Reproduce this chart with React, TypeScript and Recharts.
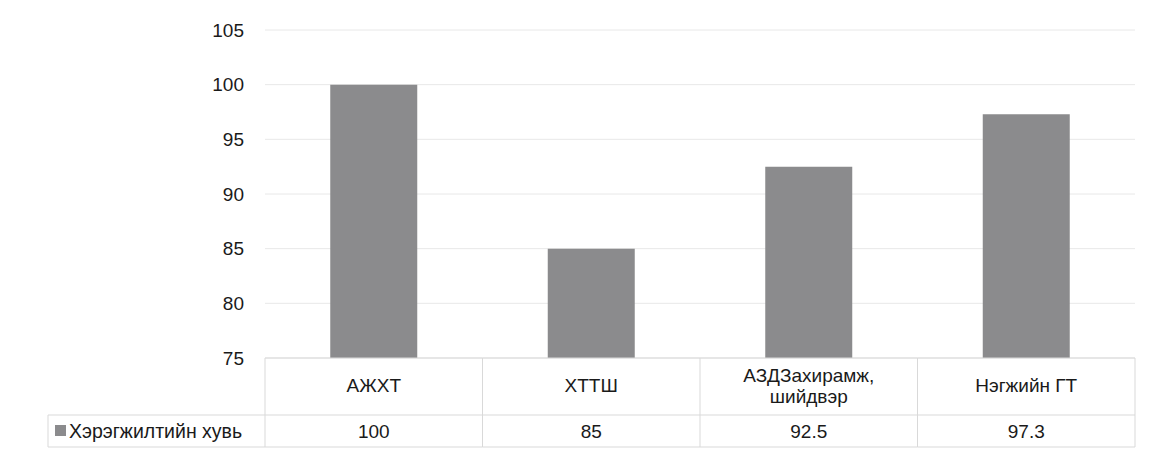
import { BarChart, Bar, XAxis, YAxis, CartesianGrid } from 'recharts';

const categories = ['АЖХТ', 'ХТТШ', 'АЗДЗахирамж, шийдвэр', 'Нэгжийн ГТ'];
const values = [100, 85, 92.5, 97.3];
const seriesName = 'Хэрэгжилтийн хувь';
const yTicks = [75, 80, 85, 90, 95, 100, 105];

const data = categories.map((name, i) => ({ name, value: values[i] }));

const W = 1156;
const H = 456;
const PLOT_LEFT = 265;
const PLOT_RIGHT = 1135;
const BAND = (PLOT_RIGHT - PLOT_LEFT) / categories.length;
const FONT = '"Liberation Sans", Arial, sans-serif';
const BORDER = '#d9d9d9';
const BAR_COLOR = '#8b8b8d';

// splits "АЗДЗахирамж, шийдвэр" after the comma
const splitLabel = (s: string) => {
  const idx = s.indexOf(', ');
  return idx < 0 ? [s] : [s.slice(0, idx + 1), s.slice(idx + 2)];
};

function TableTick(props: any) {
  const { x, y, payload } = props;
  const i = payload.index;
  const left = x - BAND / 2;
  const right = x + BAND / 2;
  const rowMid = y + 57;
  const bottom = y + 89;
  const lines = splitLabel(payload.value);
  return (
    <g fontFamily={FONT} fill="#1a1a1a">
      <line x1={left} y1={y} x2={right} y2={y} stroke={BORDER} />
      <line x1={left} y1={rowMid} x2={right} y2={rowMid} stroke={BORDER} />
      <line x1={left} y1={bottom} x2={right} y2={bottom} stroke={BORDER} />
      <line x1={left} y1={y} x2={left} y2={bottom} stroke={BORDER} />
      {i === categories.length - 1 && (
        <line x1={right} y1={y} x2={right} y2={bottom} stroke={BORDER} />
      )}
      {lines.length === 1 ? (
        <text x={x} y={y + 34} textAnchor="middle" fontSize={19}>
          {lines[0]}
        </text>
      ) : (
        <text x={x} y={y + 24} textAnchor="middle" fontSize={19}>
          <tspan x={x}>{lines[0]}</tspan>
          <tspan x={x} dy={21}>{lines[1]}</tspan>
        </text>
      )}
      <text x={x} y={y + 80} textAnchor="middle" fontSize={19}>
        {values[i]}
      </text>
      {i === 0 && (
        <g>
          <line x1={48} y1={rowMid} x2={left} y2={rowMid} stroke={BORDER} />
          <line x1={48} y1={bottom} x2={left} y2={bottom} stroke={BORDER} />
          <line x1={48} y1={rowMid} x2={48} y2={bottom} stroke={BORDER} />
          <rect x={55} y={rowMid + 10} width={11} height={11} fill={BAR_COLOR} />
          <text x={69} y={y + 80} fontSize={19.5}>
            {seriesName}
          </text>
        </g>
      )}
    </g>
  );
}

export default function App() {
  return (
    <div style={{ position: 'absolute', left: 0, top: 0, width: W, height: H, background: '#fff' }}>
      <BarChart
        width={W}
        height={H}
        data={data}
        margin={{ top: 30, right: W - PLOT_RIGHT, left: 0, bottom: 8 }}
        barCategoryGap="30%"
      >
        <CartesianGrid vertical={false} stroke="#e8e8e8" />
        <XAxis
          dataKey="name"
          height={90}
          axisLine={false}
          tickLine={false}
          tickSize={0}
          tickMargin={0}
          interval={0}
          tick={<TableTick />}
        />
        <YAxis
          width={PLOT_LEFT}
          domain={[75, 105]}
          ticks={yTicks}
          allowDataOverflow
          axisLine={false}
          tickLine={false}
          tickSize={0}
          tickMargin={21}
          tick={{ fontSize: 19, fill: '#1a1a1a', fontFamily: FONT }}
        />
        <Bar dataKey="value" name={seriesName} fill={BAR_COLOR} isAnimationActive={false} />
      </BarChart>
    </div>
  );
}
